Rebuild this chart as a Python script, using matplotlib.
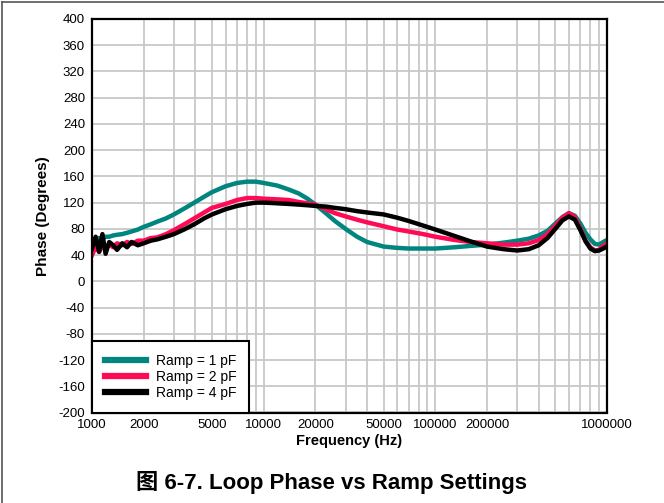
import matplotlib
matplotlib.use("Agg")
import matplotlib.pyplot as plt
from matplotlib.ticker import FixedLocator, LogLocator, NullFormatter

# Частоты (Гц), общие для всех трёх кривых
freq = [1000, 1050, 1100, 1150, 1200, 1260, 1330, 1400, 1500, 1600, 1700, 1850,
        2000, 2200, 2400, 2700, 3000, 3500, 4000, 4500, 5000, 6000, 7000, 8000,
        9000, 10000, 12000, 14000, 16000, 18000, 20000, 23000, 26000, 30000,
        35000, 40000, 50000, 60000, 70000, 85000, 100000, 130000, 160000,
        200000, 250000, 300000, 350000, 400000, 450000, 500000, 550000, 600000,
        650000, 700000, 750000, 800000, 850000, 900000, 950000, 1000000]

# Фаза, градусы
phase_1pf = [58, 64, 66, 65, 68, 68, 70, 71, 72, 74, 76, 79,
             83, 87, 91, 96, 102, 112, 121, 129, 136, 145, 150, 152,
             152, 150, 146, 140, 134, 126, 117, 104, 92, 80,
             68, 60, 53, 51, 50, 50, 50, 52, 54,
             56, 59, 62, 65, 70, 77, 88, 98, 104,
             100, 88, 74, 64, 57, 56, 60, 63]

phase_2pf = [40, 52, 45, 55, 50, 56, 52, 58, 55, 60, 57, 62,
             62, 66, 67, 72, 78, 88, 97, 105, 112, 118, 124, 127,
             127, 126, 125, 124, 121, 119, 117, 110, 104, 99,
             94, 90, 84, 79, 76, 72, 68, 63, 60,
             58, 56, 56, 58, 63, 72, 85, 97, 104,
             98, 80, 62, 52, 47, 48, 54, 58]

phase_4pf = [50, 68, 45, 72, 42, 60, 55, 48, 58, 52, 60, 55,
             58, 62, 64, 68, 72, 80, 88, 96, 102, 110, 115, 118,
             120, 120, 119, 118, 117, 116, 115, 114, 112, 110,
             107, 105, 102, 97, 92, 85, 79, 69, 61,
             53, 49, 47, 49, 55, 66, 80, 93, 99,
             94, 78, 61, 50, 46, 47, 50, 53]

series = [("Ramp = 1 pF", phase_1pf, "#00857F"),
          ("Ramp = 2 pF", phase_2pf, "#FF0A55"),
          ("Ramp = 4 pF", phase_4pf, "#000000")]

x_ticks = [1000, 2000, 5000, 10000, 20000, 50000, 100000, 200000, 1000000]
y_ticks = list(range(-200, 401, 40))

plt.rcParams["font.family"] = ["Liberation Sans", "Noto Sans CJK SC", "DejaVu Sans"]
plt.rcParams["axes.unicode_minus"] = False

fig = plt.figure(figsize=(6.64, 5.03), dpi=100)
ax = fig.add_axes([92 / 664, 1 - 412.5 / 503, 515 / 664, 393.5 / 503])

for name, vals, col in series:
    ax.plot(freq, vals, color=col, lw=3.2, label=name, solid_joinstyle="round")

ax.set_xscale("log")
ax.set_xlim(1000, 1000000)
ax.set_ylim(-200, 400)
ax.xaxis.set_major_locator(FixedLocator(x_ticks))
ax.xaxis.set_minor_locator(LogLocator(base=10, subs=range(2, 10), numticks=20))
ax.xaxis.set_minor_formatter(NullFormatter())
ax.set_xticklabels([str(t) for t in x_ticks])
ax.set_yticks(y_ticks)
ax.tick_params(which="both", length=0, labelsize=9.5, pad=5)

ax.grid(True, which="both", color="#c8c8c8", lw=1.3)
ax.set_axisbelow(True)
for sp in ax.spines.values():
    sp.set_linewidth(1.6)
    sp.set_color("black")

ax.set_xlabel("Frequency (Hz)", fontsize=10.5, fontweight="bold", labelpad=2)
ax.set_ylabel("Phase (Degrees)", fontsize=11, fontweight="bold", labelpad=6)

leg = ax.legend(loc="lower left", borderaxespad=0, fancybox=False,
                edgecolor="black", framealpha=1, fontsize=10,
                handlelength=3.0, handletextpad=0.7, labelspacing=0.15,
                borderpad=0.9)
leg.get_frame().set_linewidth(1.5)
for h in leg.get_lines():
    h.set_linewidth(4.5)

fig.text(0.5, 1 - 482 / 503, "图 6-7. Loop Phase vs Ramp Settings",
         ha="center", va="center", fontsize=16, fontweight="bold")

# Рамка рисунка (левая и верхняя стороны)
fig.add_artist(plt.Line2D([1.5 / 664, 1.5 / 664], [0, 1 - 2 / 503],
                          color="#555555", lw=1.2))
fig.add_artist(plt.Line2D([1.5 / 664, 1], [1 - 2 / 503, 1 - 2 / 503],
                          color="#555555", lw=1.2))

fig.savefig("out.png", dpi=100)
